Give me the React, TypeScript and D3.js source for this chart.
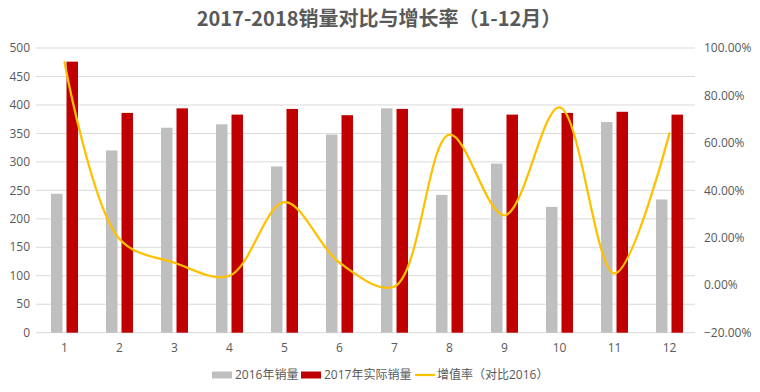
import React from "react";
import * as d3 from "d3";

const months = ["1", "2", "3", "4", "5", "6", "7", "8", "9", "10", "11", "12"];
const sales2016 = [244, 320, 360, 366, 292, 348, 394, 242, 297, 221, 370, 234];
const sales2017 = [476, 386, 394, 383, 393, 382, 393, 394, 383, 386, 388, 383];
const growthRate = [0.94, 0.195, 0.095, 0.04, 0.35, 0.095, -0.005, 0.635, 0.295, 0.75, 0.05, 0.64];
const leftTicks = [0, 50, 100, 150, 200, 250, 300, 350, 400, 450, 500];
const rightTicks = [-0.2, 0, 0.2, 0.4, 0.6, 0.8, 1.0];
const title = "2017-2018销量对比与增长率（1-12月）";
const legendLabels = ["2016年销量", "2017年实际销量", "增值率（对比2016）"];

const W = 760;
const H = 392;
const plot = { left: 37, right: 697, top: 48, bottom: 332.7 };
const FONT = "'Segoe UI', 'Open Sans', 'Noto Sans CJK SC', sans-serif";
const TXT = "#595959";
const GRID = "#D9D9D9";
const C2016 = "#BFBFBF";
const C2017 = "#C00000";
const CLINE = "#FFC000";

export default function App() {
  const x = d3.scaleBand<string>().domain(months).range([plot.left, plot.right]).padding(0);
  const yL = d3.scaleLinear().domain([0, 500]).range([plot.bottom, plot.top]);
  const yR = d3.scaleLinear().domain([-0.2, 1.0]).range([plot.bottom, plot.top]);
  const center = (m: string) => (x(m) as number) + x.bandwidth() / 2;
  const barW = 11.5;
  const gap = 4;

  const line = d3
    .line<number>()
    .x((_, i) => center(months[i]))
    .y((d) => yR(d))
    .curve(d3.curveCatmullRom.alpha(0.5));

  const pct = d3.format(".2%");

  return (
    <svg
      width={W}
      height={H}
      style={{ position: "absolute", left: 0, top: 0, background: "#fff" }}
      fontFamily={FONT}
    >
      <rect x={0} y={0} width={W} height={H} fill="#fff" />
      <text
        x={W / 2 - 1}
        y={26}
        textAnchor="middle"
        fontSize={20}
        fontWeight="bold"
        fill={TXT}
        fontFamily="'Noto Sans CJK SC', sans-serif"
      >
        {title}
      </text>

      {leftTicks.map((t) => (
        <g key={"l" + t}>
          <line x1={plot.left - 1} x2={plot.right - 2} y1={yL(t)} y2={yL(t)} stroke={GRID} strokeWidth={1} />
          <text x={30} y={yL(t)} dy="0.35em" textAnchor="end" fontSize={12} fill={TXT}>
            {t}
          </text>
        </g>
      ))}

      {rightTicks.map((t) => (
        <text key={"r" + t} x={704} y={yR(t)} dy="0.35em" textAnchor="start" fontSize={12} fill={TXT}>
          {pct(t)}
        </text>
      ))}

      {months.map((m, i) => (
        <g key={"b" + m}>
          <rect
            x={center(m) - gap / 2 - barW}
            y={yL(sales2016[i])}
            width={barW}
            height={yL(0) - yL(sales2016[i])}
            fill={C2016}
          />
          <rect
            x={center(m) + gap / 2}
            y={yL(sales2017[i])}
            width={barW}
            height={yL(0) - yL(sales2017[i])}
            fill={C2017}
          />
          <text x={center(m)} y={348} dy="0.35em" textAnchor="middle" fontSize={12} fill={TXT}>
            {m}
          </text>
        </g>
      ))}

      <path d={line(growthRate) || ""} fill="none" stroke={CLINE} strokeWidth={2.25} strokeLinecap="round" />

      <g fontSize={12} fill={TXT} fontFamily="'Segoe UI', 'Open Sans', 'Noto Sans CJK SC', sans-serif">
        <rect x={212} y={371.5} width={20} height={7} fill={C2016} />
        <text x={235} y={375} dy="0.35em">{legendLabels[0]}</text>
        <rect x={301} y={371.5} width={20} height={7} fill={C2017} />
        <text x={324} y={375} dy="0.35em">{legendLabels[1]}</text>
        <line x1={415} x2={435} y1={375} y2={375} stroke={CLINE} strokeWidth={2.25} />
        <text x={437} y={375} dy="0.35em">{legendLabels[2]}</text>
      </g>
    </svg>
  );
}
